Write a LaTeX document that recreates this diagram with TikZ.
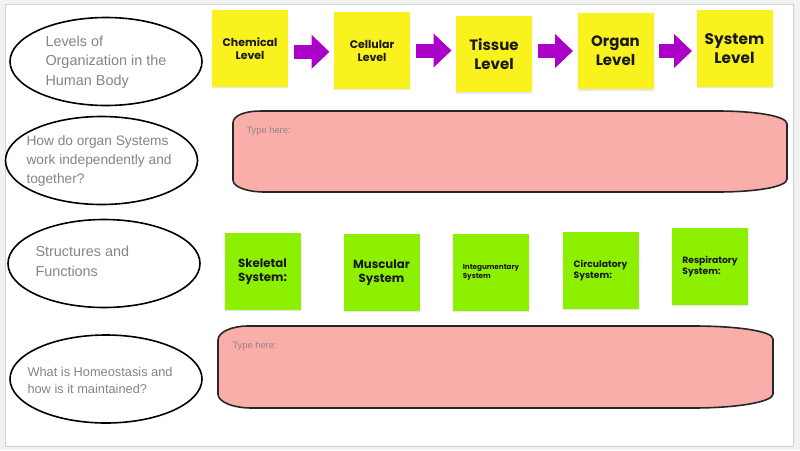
\documentclass[tikz,border=0pt]{standalone}
\usepackage{fontspec}
\usetikzlibrary{arrows.meta,shapes.geometric,shadows}
\newfontfamily\qfont{Liberation Sans}
\newfontfamily\cardfont{Poppins}

\definecolor{qgray}{RGB}{128,134,139}
\definecolor{hintgray}{RGB}{150,130,130}
\definecolor{cardyellow}{RGB}{250,242,30}
\definecolor{cardgreen}{RGB}{140,240,0}
\definecolor{stepviolet}{RGB}{170,0,200}
\definecolor{notepink}{RGB}{250,174,170}

\tikzset{every picture/.style={line width=0.75pt}}
\tikzset{
  qshape/.style={draw=black, line width=1.2pt, shape=ellipse, inner sep=0pt,
    minimum width=144pt, minimum height=66pt},
  qtext/.style={anchor=west, align=left, inner sep=0pt, text=qgray,
    font=\qfont\fontsize{10.8pt}{14.6pt}\selectfont},
  levelcard/.style={fill=cardyellow, inner sep=0pt, minimum width=57pt, minimum height=57.5pt,
    align=center, text=black!90,
    drop shadow={shadow xshift=0pt, shadow yshift=-1pt, opacity=0.18}},
  organcard/.style={levelcard, fill=cardgreen},
  levelarrow/.style={draw=stepviolet, line width=10.5pt, shorten <=3.75pt, shorten >=3pt,
    -{Triangle[width=24.75pt, length=13.5pt]}},
  notebox/.style={draw=black!85, line width=1.2pt, fill=notepink},
  hint/.style={anchor=west, inner sep=0pt, text=hintgray,
    font=\qfont\fontsize{7pt}{8pt}\selectfont}
}

\begin{document}
\begin{tikzpicture}[x=0.75pt,y=0.75pt,yscale=-1,xscale=1]
\useasboundingbox (0,0) rectangle (800,450);

%Frame
\fill[black!5] (0,0) rectangle (800,450);
\draw[black!18, fill=white] (5,4) rectangle (793,446);

%Shape: Ellipse (questions)
\node[qshape] (q1) at (106,61.5) {};
\node[qshape] (q2) at (101.5,160.5) {};
\node[qshape] (q3) at (104,263.5) {};
\node[qshape] (q4) at (106,379) {};

\node[qtext] (q1t) at (45,62) {Levels of\\Organization in the\\Human Body};
\node[qtext, font=\qfont\fontsize{10.3pt}{14.4pt}\selectfont] (q2t) at (26,161) {How do organ Systems\\work independently and\\together?};
\node[qtext] (q3t) at (35,261.5) {Structures and\\Functions};
\node[qtext, font=\qfont\fontsize{9.6pt}{13pt}\selectfont] (q4t) at (27,380.5) {What is Homeostasis and\\how is it maintained?};

%Levels of organization
\node[levelcard, font=\cardfont\bfseries\fontsize{8.25pt}{9.75pt}\selectfont] (chem) at (250,48.5) {Chemical\\Level};
\node[levelcard, font=\cardfont\bfseries\fontsize{8.25pt}{9.75pt}\selectfont] (cell) at (372,50.5) {Cellular\\Level};
\node[levelcard, font=\cardfont\bfseries\fontsize{11.25pt}{14.25pt}\selectfont] (tissue) at (494,54) {Tissue\\Level};
\node[levelcard, font=\cardfont\bfseries\fontsize{11.25pt}{14.25pt}\selectfont] (organ) at (615.5,51) {Organ\\Level};
\node[levelcard, font=\cardfont\bfseries\fontsize{11.5pt}{14.5pt}\selectfont] (system) at (734.5,48.5) {System\\Level};

%Straight Lines (arrows)
\draw[levelarrow] ([yshift=2.5pt]chem.east) -- ([yshift=2.5pt]chem.east -| cell.west);
\draw[levelarrow] (cell.east) -- (cell.east -| tissue.west);
\draw[levelarrow] (organ.west -| tissue.east) -- (organ.west);
\draw[levelarrow] (organ.east) -- (organ.east -| system.west);

%Organ systems
\node[organcard, font=\cardfont\bfseries\fontsize{8.8pt}{10.5pt}\selectfont] (skeletal) at (262.5,271.5) {Skeletal\\System:};
\node[organcard, font=\cardfont\bfseries\fontsize{8.8pt}{10.5pt}\selectfont] (muscular) at (381.5,272.5) {Muscular\\System};
\node[organcard, align=left, font=\cardfont\bfseries\fontsize{5.4pt}{6.75pt}\selectfont] (integ) at (491,272.5) {Integumentary\\System};
\node[organcard, align=left, font=\cardfont\bfseries\fontsize{6.9pt}{8.25pt}\selectfont] (circ) at (600.5,270.5) {Circulatory\\System:};
\node[organcard, align=left, font=\cardfont\bfseries\fontsize{6.9pt}{8.25pt}\selectfont] (resp) at (710,266.5) {Respiratory\\System:};

%Shape: answer box 1
\draw[notebox] (261,111) -- (717,111) .. controls (756,111) and (787,116) .. (787,124)
  -- (787,179) .. controls (787,187) and (756,192) .. (717,192)
  -- (265,192) .. controls (247,192) and (233,187) .. (233,180)
  -- (233,123) .. controls (233,115) and (246,111) .. (261,111) -- cycle;
\node[hint] (a1) at (246,131) {Type here:};

%Shape: answer box 2
\draw[notebox] (248,326) -- (693,326) .. controls (737,326) and (773,331) .. (773,339)
  -- (773,394) .. controls (773,402) and (737,408) .. (693,408)
  -- (252,408) .. controls (233,408) and (218,402) .. (218,394)
  -- (218,340) .. controls (218,332) and (232,326) .. (248,326) -- cycle;
\node[hint] (a2) at (232,346) {Type here:};

\end{tikzpicture}
\end{document}
